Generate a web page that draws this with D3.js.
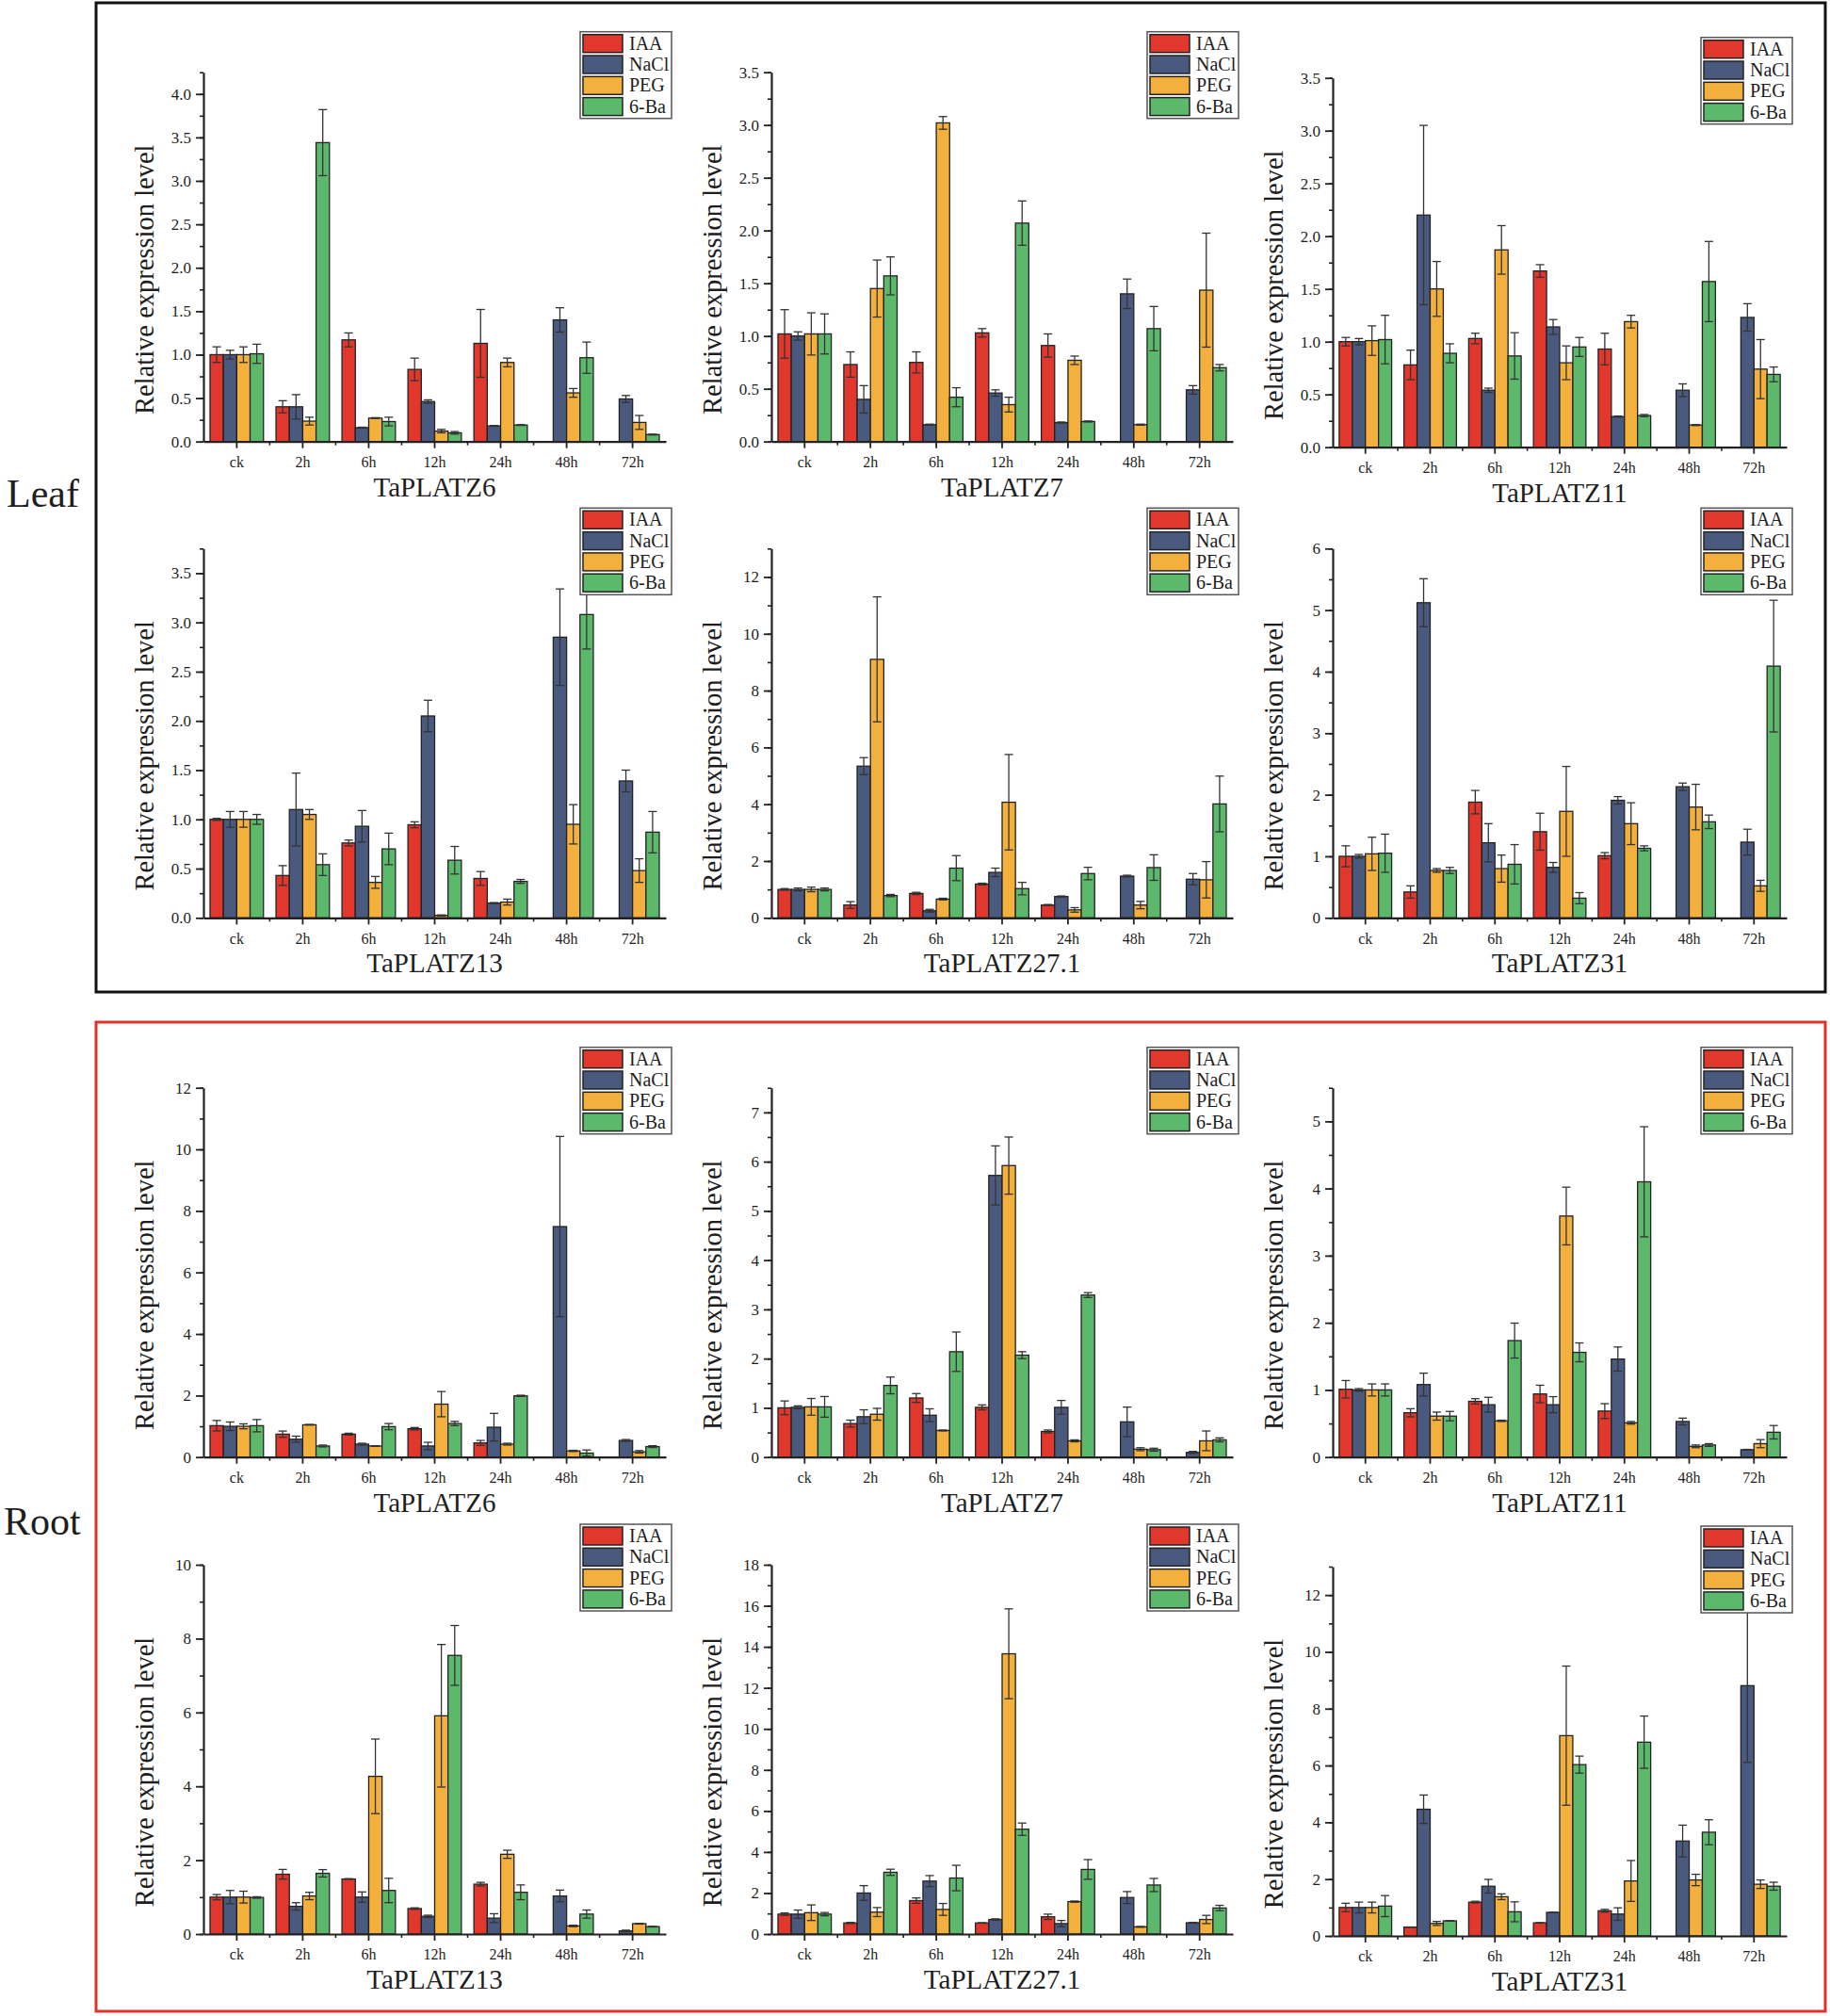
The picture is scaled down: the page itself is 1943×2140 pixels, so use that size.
<!DOCTYPE html>
<html>
<head>
<meta charset="utf-8">
<script src="https://cdn.jsdelivr.net/npm/d3@7"></script>
<style>
  body { margin: 0; background: #fff; }
  text { font-family: "Liberation Serif", "DejaVu Serif", serif; fill: #1e1e1e; }
</style>
</head>
<body>
<svg id="fig" width="1943" height="2140"></svg>
<script>
const times = ['ck', '2h', '6h', '12h', '24h', '48h', '72h'];
const treatments = ['IAA', 'NaCl', 'PEG', '6-Ba'];
const colors = ['#e2372c', '#4a5a7f', '#f4b03c', '#5cb96b'];

// rows: IAA, NaCl, PEG, 6-Ba ; columns follow times
const leaf6Mean = [[1.00, 0.40, 1.17, 0.83, 1.13, null, null], [1.00, 0.40, 0.16, 0.46, 0.18, 1.40, 0.49], [1.00, 0.235, 0.27, 0.12, 0.91, 0.56, 0.22], [1.01, 3.44, 0.23, 0.10, 0.19, 0.965, 0.08]];
const leaf6Err = [[0.09, 0.07, 0.08, 0.13, 0.39, 0, 0], [0.05, 0.14, 0.005, 0.02, 0.005, 0.14, 0.04], [0.09, 0.045, 0.005, 0.02, 0.05, 0.05, 0.08], [0.11, 0.38, 0.05, 0.015, 0.005, 0.18, 0.005]];

const leaf7Mean = [[1.02, 0.73, 0.75, 1.03, 0.91, null, null], [1.00, 0.40, 0.16, 0.46, 0.18, 1.40, 0.49], [1.02, 1.45, 3.02, 0.35, 0.77, 0.16, 1.435], [1.02, 1.57, 0.42, 2.07, 0.19, 1.07, 0.70]];
const leaf7Err = [[0.23, 0.12, 0.10, 0.04, 0.11, 0, 0], [0.04, 0.13, 0.005, 0.03, 0.005, 0.14, 0.04], [0.20, 0.27, 0.06, 0.07, 0.04, 0.005, 0.54], [0.19, 0.18, 0.09, 0.21, 0.005, 0.21, 0.03]];

const leaf11Mean = [[1.00, 0.78, 1.03, 1.67, 0.93, null, null], [1.00, 2.20, 0.54, 1.14, 0.29, 0.54, 1.23], [1.01, 1.50, 1.87, 0.80, 1.19, 0.21, 0.74], [1.02, 0.89, 0.865, 0.95, 0.30, 1.57, 0.69]];
const leaf11Err = [[0.04, 0.14, 0.05, 0.06, 0.15, 0, 0], [0.03, 0.85, 0.02, 0.07, 0.005, 0.06, 0.13], [0.14, 0.26, 0.23, 0.16, 0.06, 0.005, 0.28], [0.23, 0.09, 0.22, 0.09, 0.01, 0.38, 0.07]];

const leaf13Mean = [[1.00, 0.43, 0.76, 0.945, 0.40, null, null], [1.00, 1.10, 0.93, 2.05, 0.15, 2.85, 1.39], [1.00, 1.05, 0.36, 0.025, 0.16, 0.95, 0.48], [1.00, 0.54, 0.70, 0.585, 0.37, 3.08, 0.87]];
const leaf13Err = [[0.01, 0.10, 0.03, 0.03, 0.07, 0, 0], [0.08, 0.37, 0.16, 0.16, 0.005, 0.49, 0.11], [0.08, 0.05, 0.06, 0.005, 0.03, 0.20, 0.12], [0.05, 0.11, 0.16, 0.14, 0.02, 0.35, 0.21]];

const leaf27Mean = [[1.00, 0.45, 0.86, 1.19, 0.45, null, null], [1.00, 5.34, 0.25, 1.60, 0.75, 1.47, 1.36], [1.00, 9.10, 0.66, 4.07, 0.28, 0.45, 1.34], [1.00, 0.785, 1.75, 1.03, 1.56, 1.77, 4.01]];
const leaf27Err = [[0.03, 0.12, 0.04, 0.03, 0.02, 0, 0], [0.05, 0.30, 0.05, 0.15, 0.02, 0.03, 0.20], [0.08, 2.20, 0.03, 1.68, 0.08, 0.13, 0.64], [0.05, 0.04, 0.44, 0.22, 0.22, 0.45, 0.98]];

const leaf31Mean = [[1.00, 0.42, 1.88, 1.40, 1.01, null, null], [1.00, 5.12, 1.22, 0.82, 1.91, 2.13, 1.23], [1.04, 0.77, 0.80, 1.73, 1.53, 1.80, 0.52], [1.05, 0.77, 0.87, 0.32, 1.13, 1.56, 4.09]];
const leaf31Err = [[0.17, 0.10, 0.19, 0.30, 0.05, 0, 0], [0.03, 0.39, 0.31, 0.08, 0.06, 0.06, 0.21], [0.27, 0.03, 0.22, 0.73, 0.34, 0.37, 0.09], [0.31, 0.05, 0.32, 0.09, 0.04, 0.11, 1.07]];

const root6Mean = [[1.02, 0.745, 0.745, 0.92, 0.46, null, null], [1.00, 0.58, 0.42, 0.36, 0.97, 7.49, 0.54], [1.00, 1.05, 0.36, 1.72, 0.42, 0.20, 0.17], [1.02, 0.36, 0.99, 1.09, 1.99, 0.13, 0.34]];
const root6Err = [[0.17, 0.10, 0.03, 0.04, 0.08, 0, 0], [0.14, 0.10, 0.03, 0.12, 0.45, 2.93, 0.03], [0.08, 0.01, 0.01, 0.41, 0.03, 0.02, 0.04], [0.20, 0.03, 0.10, 0.07, 0.02, 0.10, 0.03]];

const root7Mean = [[1.00, 0.68, 1.20, 1.01, 0.52, null, null], [1.01, 0.82, 0.85, 5.72, 1.01, 0.715, 0.095], [1.02, 0.87, 0.54, 5.92, 0.33, 0.16, 0.33], [1.02, 1.455, 2.14, 2.07, 3.29, 0.15, 0.35]];
const root7Err = [[0.14, 0.07, 0.09, 0.05, 0.03, 0, 0], [0.03, 0.14, 0.13, 0.60, 0.14, 0.30, 0.02], [0.17, 0.12, 0.01, 0.58, 0.02, 0.03, 0.20], [0.21, 0.17, 0.40, 0.07, 0.05, 0.03, 0.04]];

const root11Mean = [[1.01, 0.66, 0.83, 0.94, 0.685, null, null], [1.00, 1.08, 0.78, 0.78, 1.46, 0.53, 0.11], [1.00, 0.61, 0.54, 3.59, 0.51, 0.16, 0.20], [1.00, 0.61, 1.735, 1.56, 4.10, 0.18, 0.37]];
const root11Err = [[0.13, 0.06, 0.04, 0.13, 0.11, 0, 0], [0.02, 0.17, 0.11, 0.12, 0.18, 0.05, 0.005], [0.09, 0.06, 0.01, 0.43, 0.02, 0.02, 0.06], [0.09, 0.07, 0.26, 0.14, 0.82, 0.02, 0.10]];

const root13Mean = [[1.00, 1.62, 1.49, 0.69, 1.35, null, null], [1.00, 0.75, 1.00, 0.48, 0.43, 1.03, 0.085], [1.00, 1.03, 4.27, 5.91, 2.16, 0.22, 0.28], [0.99, 1.645, 1.18, 7.545, 1.13, 0.54, 0.20]];
const root13Err = [[0.07, 0.13, 0.01, 0.02, 0.05, 0, 0], [0.18, 0.10, 0.14, 0.03, 0.12, 0.16, 0.02], [0.16, 0.10, 1.01, 1.93, 0.11, 0.02, 0.01], [0.02, 0.10, 0.33, 0.81, 0.20, 0.11, 0.01]];

const root27Mean = [[0.97, 0.54, 1.63, 0.54, 0.84, null, null], [0.97, 2.00, 2.58, 0.71, 0.51, 1.78, 0.55], [1.04, 1.07, 1.20, 13.66, 1.58, 0.35, 0.71], [0.97, 3.01, 2.73, 5.11, 3.15, 2.39, 1.27]];
const root27Err = [[0.06, 0.03, 0.13, 0.01, 0.13, 0, 0], [0.20, 0.36, 0.27, 0.03, 0.15, 0.29, 0.02], [0.38, 0.22, 0.29, 2.19, 0.03, 0.02, 0.20], [0.08, 0.15, 0.62, 0.30, 0.48, 0.32, 0.13]];

const root31Mean = [[1.00, 0.31, 1.19, 0.46, 0.885, null, null], [1.00, 4.46, 1.75, 0.83, 0.77, 3.34, 8.81], [1.00, 0.44, 1.38, 7.05, 1.935, 1.97, 1.82], [1.05, 0.53, 0.85, 6.03, 6.82, 3.65, 1.75]];
const root31Err = [[0.15, 0.005, 0.03, 0.005, 0.05, 0, 0], [0.19, 0.50, 0.24, 0.005, 0.22, 0.56, 2.70], [0.19, 0.07, 0.10, 2.45, 0.72, 0.20, 0.15], [0.37, 0.01, 0.35, 0.30, 0.92, 0.44, 0.14]];

const panels = [
  { gene: 'TaPLATZ6',    row: 0, col: 0, mean: leaf6Mean,  err: leaf6Err,  yMax: 4.25, step: 0.5, minor: 0.25 },
  { gene: 'TaPLATZ7',    row: 0, col: 1, mean: leaf7Mean,  err: leaf7Err,  yMax: 3.5,  step: 0.5, minor: 0.25 },
  { gene: 'TaPLATZ11',   row: 0, col: 2, mean: leaf11Mean, err: leaf11Err, yMax: 3.5,  step: 0.5, minor: 0.25, dy: 6 },
  { gene: 'TaPLATZ13',   row: 1, col: 0, mean: leaf13Mean, err: leaf13Err, yMax: 3.75, step: 0.5, minor: 0.25 },
  { gene: 'TaPLATZ27.1', row: 1, col: 1, mean: leaf27Mean, err: leaf27Err, yMax: 13,   step: 2,   minor: 1 },
  { gene: 'TaPLATZ31',   row: 1, col: 2, mean: leaf31Mean, err: leaf31Err, yMax: 6,    step: 1,   minor: 0.5 },
  { gene: 'TaPLATZ6',    row: 2, col: 0, mean: root6Mean,  err: root6Err,  yMax: 12,   step: 2,   minor: 1 },
  { gene: 'TaPLATZ7',    row: 2, col: 1, mean: root7Mean,  err: root7Err,  yMax: 7.5,  step: 1,   minor: 0.5 },
  { gene: 'TaPLATZ11',   row: 2, col: 2, mean: root11Mean, err: root11Err, yMax: 5.5,  step: 1,   minor: 0.5 },
  { gene: 'TaPLATZ13',   row: 3, col: 0, mean: root13Mean, err: root13Err, yMax: 10,   step: 2,   minor: 1 },
  { gene: 'TaPLATZ27.1', row: 3, col: 1, mean: root27Mean, err: root27Err, yMax: 18,   step: 2,   minor: 1 },
  { gene: 'TaPLATZ31',   row: 3, col: 2, mean: root31Mean, err: root31Err, yMax: 13,   step: 2,   minor: 1, dy: 2 }
];

const colX = [216, 819, 1415];
const colW = [491, 490, 482];
const rowBottom = [468.7, 974.3, 1546.7, 2053];
const plotH = 392;

const svg = d3.select('#fig');
svg.append('rect').attr('width', 1943).attr('height', 2140).attr('fill', '#fff');

// section frames
svg.append('rect').attr('x', 102).attr('y', 3).attr('width', 1836).attr('height', 1050)
  .attr('fill', 'none').attr('stroke', '#111').attr('stroke-width', 3);
svg.append('rect').attr('x', 102).attr('y', 1085).attr('width', 1836).attr('height', 1050)
  .attr('fill', 'none').attr('stroke', '#e0312b').attr('stroke-width', 3);
svg.append('text').attr('x', 7).attr('y', 538).attr('font-size', 42).text('Leaf');
svg.append('text').attr('x', 4).attr('y', 1629).attr('font-size', 42).text('Root');

function fmt(p) {
  return p.step < 1 ? d3.format('.1f') : d3.format('d');
}

function drawPanel(p) {
  const x0 = colX[p.col], w = colW[p.col];
  const yb = rowBottom[p.row] + (p.dy || 0), yt = yb - plotH;
  const g = svg.append('g');

  const x = d3.scaleBand().domain(times).range([x0, x0 + w]).paddingInner(0.19).paddingOuter(0.1);
  const xs = d3.scaleBand().domain(treatments).range([0, x.bandwidth()]);
  const y = d3.scaleLinear().domain([0, p.yMax]).range([yb, yt]);

  const rows = [];
  treatments.forEach((t, i) => times.forEach((c, j) => {
    if (p.mean[i][j] != null) rows.push({ t, i, c, v: p.mean[i][j], e: p.err[i][j] });
  }));

  // bars
  g.selectAll('rect.bar').data(rows).enter().append('rect')
    .attr('x', d => x(d.c) + xs(d.t))
    .attr('y', d => y(d.v))
    .attr('width', xs.bandwidth())
    .attr('height', d => yb - y(d.v))
    .attr('fill', d => colors[d.i])
    .attr('stroke', '#222').attr('stroke-width', 1.3);

  // error bars
  const eb = g.selectAll('g.err').data(rows.filter(d => d.e > 0)).enter().append('g')
    .attr('stroke', '#333').attr('stroke-width', 1.3);
  const cx = d => x(d.c) + xs(d.t) + xs.bandwidth() / 2;
  const cap = xs.bandwidth() * 0.32;
  eb.append('line').attr('x1', cx).attr('x2', cx)
    .attr('y1', d => y(Math.max(0, d.v - d.e))).attr('y2', d => y(d.v + d.e));
  eb.append('line').attr('x1', d => cx(d) - cap).attr('x2', d => cx(d) + cap)
    .attr('y1', d => y(d.v + d.e)).attr('y2', d => y(d.v + d.e));
  eb.append('line').attr('x1', d => cx(d) - cap).attr('x2', d => cx(d) + cap)
    .attr('y1', d => y(Math.max(0, d.v - d.e))).attr('y2', d => y(Math.max(0, d.v - d.e)));

  // y axis: minor then major
  const minorTicks = d3.range(0, p.yMax + 1e-9, p.minor);
  const majorTicks = d3.range(0, p.yMax + 1e-9, p.step);
  g.append('g').attr('transform', `translate(${x0},0)`)
    .call(d3.axisLeft(y).tickValues(minorTicks).tickSize(4).tickSizeOuter(0).tickFormat(''))
    .call(a => a.selectAll('line').attr('stroke', '#222').attr('stroke-width', 1.6))
    .call(a => a.select('.domain').attr('stroke', '#222').attr('stroke-width', 2.2));
  g.append('g').attr('transform', `translate(${x0},0)`)
    .call(d3.axisLeft(y).tickValues(majorTicks).tickSize(8).tickSizeOuter(0).tickFormat(fmt(p)).tickPadding(5))
    .call(a => a.select('.domain').remove())
    .call(a => a.selectAll('line').attr('stroke', '#222').attr('stroke-width', 1.8))
    .call(a => a.selectAll('text').attr('font-size', 17).attr('font-family', '"Liberation Serif", serif').attr('fill', '#222'));

  // x axis
  g.append('g').attr('transform', `translate(0,${yb})`)
    .call(d3.axisBottom(x).tickSize(7).tickSizeOuter(0).tickPadding(9))
    .call(a => a.select('.domain').attr('stroke', '#222').attr('stroke-width', 2.2))
    .call(a => a.selectAll('line').attr('stroke', '#222').attr('stroke-width', 1.8))
    .call(a => a.selectAll('text').attr('font-size', 16).attr('font-family', '"Liberation Serif", serif').attr('fill', '#222'));
  const bounds = times.slice(1).map(c => x(c) - x.step() * x.paddingInner() / 2);
  g.selectAll('line.bound').data(bounds).enter().append('line')
    .attr('x1', d => d).attr('x2', d => d).attr('y1', yb).attr('y2', yb + 4)
    .attr('stroke', '#222').attr('stroke-width', 1.6);

  // labels
  g.append('text')
    .attr('transform', `translate(${x0 - 60},${(yt + yb) / 2 + 24}) rotate(-90)`)
    .attr('text-anchor', 'middle').attr('dominant-baseline', 'middle')
    .attr('font-size', 28.5).text('Relative expression level');
  g.append('text').attr('x', x0 + w / 2).attr('y', yb + 58)
    .attr('text-anchor', 'middle').attr('font-size', 29).text(p.gene);

  // legend
  const lw = 97, lh = 92;
  const lx = x0 + w + 6 - lw, ly = yt - 43;
  const lg = g.append('g');
  lg.append('rect').attr('x', lx).attr('y', ly).attr('width', lw).attr('height', lh)
    .attr('fill', '#fff').attr('stroke', '#555').attr('stroke-width', 1.5);
  lg.selectAll('rect.sw').data(treatments).enter().append('rect')
    .attr('x', lx + 3).attr('y', (d, i) => ly + 3 + i * 22.3)
    .attr('width', 42).attr('height', 19)
    .attr('fill', (d, i) => colors[i]).attr('stroke', '#222').attr('stroke-width', 1.5);
  lg.selectAll('text').data(treatments).enter().append('text')
    .attr('x', lx + 52).attr('y', (d, i) => ly + 3 + i * 22.3 + 16)
    .attr('font-size', 20).text(d => d);
}

panels.forEach(drawPanel);
</script>
</body>
</html>
